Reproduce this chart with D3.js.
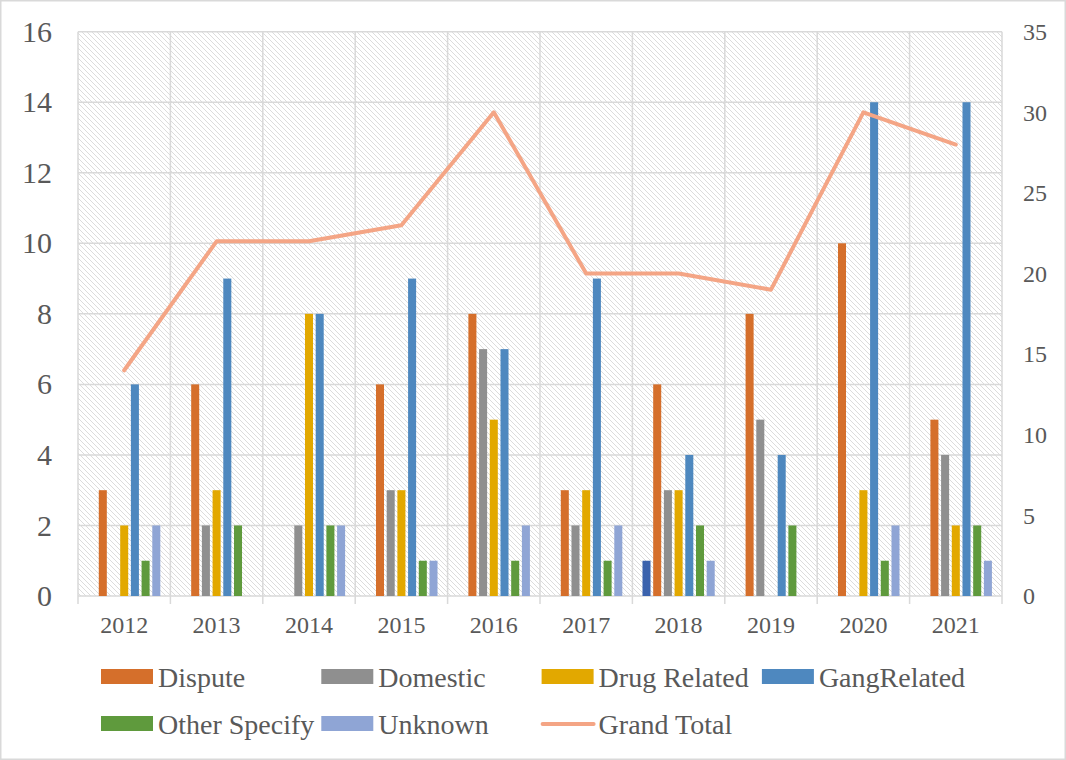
<!DOCTYPE html>
<html>
<head>
<meta charset="utf-8">
<script src="https://cdn.jsdelivr.net/npm/d3@7"></script>
<style>
  html, body { margin: 0; padding: 0; background: #fff; }
  svg { display: block; }
  svg text { font-family: "Liberation Serif", "DejaVu Serif", serif !important; }
</style>
</head>
<body>
<svg id="chart" width="1066" height="760"></svg>
<script>
// Homicide motive counts by year
const years = ["2012", "2013", "2014", "2015", "2016", "2017", "2018", "2019", "2020", "2021"];
const seriesNames = ["(blank)", "Dispute", "Domestic", "Drug Related", "GangRelated", "Other Specify", "Unknown"];
const blank       = [0, 0, 0, 0, 0, 0, 1, 0, 0, 0];
const dispute     = [3, 6, 0, 6, 8, 3, 6, 8, 10, 5];
const domestic    = [0, 2, 2, 3, 7, 2, 3, 5, 0, 4];
const drugRelated = [2, 3, 8, 3, 5, 3, 3, 0, 3, 2];
const gangRelated = [6, 9, 8, 9, 7, 9, 4, 4, 14, 14];
const otherSpecify= [1, 2, 2, 1, 1, 1, 2, 2, 1, 2];
const unknown     = [2, 0, 2, 1, 2, 2, 1, 0, 2, 1];
const grandTotal  = [14, 22, 22, 23, 30, 20, 20, 19, 30, 28];
const leftTicks  = [0, 2, 4, 6, 8, 10, 12, 14, 16];
const rightTicks = [0, 5, 10, 15, 20, 25, 30, 35];

const seriesValues = [blank, dispute, domestic, drugRelated, gangRelated, otherSpecify, unknown];
const colors = ["#3A62AD", "#D56F2B", "#8F8F8F", "#E2A800", "#4E88BF", "#5F9A3D", "#8FA5D5"];
const lineColor = "#F4A585";

const svg = d3.select("#chart");
const W = 1066, H = 760;
const plot = { left: 78, right: 1002, top: 31.7, bottom: 596 };

// outer frame
svg.append("rect").attr("x", 0.75).attr("y", 0.75).attr("width", W - 1.5).attr("height", H - 1.5)
  .attr("fill", "#fff").attr("stroke", "#d9d9d9").attr("stroke-width", 1.5);

// hatch fill for plot area
const defs = svg.append("defs");
const pat = defs.append("pattern").attr("id", "hatch")
  .attr("patternUnits", "userSpaceOnUse").attr("width", 5).attr("height", 5);
pat.append("rect").attr("width", 5).attr("height", 5).attr("fill", "#fff");
pat.append("path").attr("d", "M-1,-1 L6,6 M4,-1 L6,1 M-1,4 L1,6")
  .attr("stroke", "#dcdcdc").attr("stroke-width", 1);

svg.append("rect").attr("x", plot.left).attr("y", plot.top)
  .attr("width", plot.right - plot.left).attr("height", plot.bottom - plot.top)
  .attr("fill", "url(#hatch)");

const x0 = d3.scaleBand().domain(years).range([plot.left, plot.right]).paddingInner(0).paddingOuter(0);
const groupW = 74.9;
const x1 = d3.scaleBand().domain(seriesNames).range([-groupW / 2, groupW / 2])
  .paddingInner(0.25).paddingOuter(0.125);
const y = d3.scaleLinear().domain([0, 16]).range([plot.bottom, plot.top]);
const y2 = d3.scaleLinear().domain([0, 35]).range([plot.bottom, plot.top]);

const grid = "#d9d9d9";

// horizontal gridlines
svg.append("g").selectAll("line").data(leftTicks).join("line")
  .attr("x1", plot.left).attr("x2", plot.right)
  .attr("y1", d => y(d)).attr("y2", d => y(d))
  .attr("stroke", grid).attr("stroke-width", 1.5);

// vertical gridlines at category boundaries, extending as tick marks below the axis
const bounds = years.map(c => x0(c)).concat([plot.right]);
svg.append("g").selectAll("line").data(bounds).join("line")
  .attr("x1", d => d).attr("x2", d => d)
  .attr("y1", plot.top).attr("y2", plot.bottom + 8)
  .attr("stroke", grid).attr("stroke-width", 1.5);

// bars
const barG = svg.append("g");
seriesNames.forEach((name, si) => {
  barG.append("g").selectAll("rect").data(years.map((yr, i) => ({ yr, v: seriesValues[si][i] })))
    .join("rect")
    .filter(d => d.v > 0)
    .attr("x", d => x0(d.yr) + x0.bandwidth() / 2 + x1(name))
    .attr("width", x1.bandwidth())
    .attr("y", d => y(d.v))
    .attr("height", d => y(0) - y(d.v))
    .attr("fill", colors[si]);
});

// Grand Total line on the secondary axis
const line = d3.line()
  .x((d, i) => x0(years[i]) + x0.bandwidth() / 2)
  .y(d => y2(d));
svg.append("path").datum(grandTotal).attr("d", line)
  .attr("fill", "none").attr("stroke", lineColor).attr("stroke-width", 4)
  .attr("stroke-linejoin", "round").attr("stroke-linecap", "round");

// axes
const textColor = "#595959";
const leftAxis = d3.axisLeft(y).tickValues(leftTicks).tickSize(0).tickPadding(26);
svg.append("g").attr("transform", `translate(${plot.left},0)`).call(leftAxis)
  .attr("font-family", null)
  .call(g => g.select(".domain").remove())
  .selectAll("text").attr("fill", textColor).style("font-size", "30px");

const rightAxis = d3.axisRight(y2).tickValues(rightTicks).tickSize(0).tickPadding(21);
svg.append("g").attr("transform", `translate(${plot.right},0)`).call(rightAxis)
  .attr("font-family", null)
  .call(g => g.select(".domain").remove())
  .selectAll("text").attr("fill", textColor).style("font-size", "24px");

const bottomAxis = d3.axisBottom(x0).tickSize(0).tickPadding(20);
svg.append("g").attr("transform", `translate(0,${plot.bottom})`).call(bottomAxis)
  .attr("font-family", null)
  .call(g => g.select(".domain").remove())
  .selectAll("text").attr("fill", textColor).style("font-size", "24px");

// legend
const legendItems = [
  { name: "Dispute", color: colors[1], type: "bar", col: 0, row: 0 },
  { name: "Domestic", color: colors[2], type: "bar", col: 1, row: 0 },
  { name: "Drug Related", color: colors[3], type: "bar", col: 2, row: 0 },
  { name: "GangRelated", color: colors[4], type: "bar", col: 3, row: 0 },
  { name: "Other Specify", color: colors[5], type: "bar", col: 0, row: 1 },
  { name: "Unknown", color: colors[6], type: "bar", col: 1, row: 1 },
  { name: "Grand Total", color: lineColor, type: "line", col: 2, row: 1 }
];
const legend = svg.append("g");
const lg = legend.selectAll("g").data(legendItems).join("g")
  .attr("transform", d => `translate(${101 + d.col * 220.3},${677 + d.row * 47})`);
lg.filter(d => d.type === "bar").append("rect")
  .attr("x", 0).attr("y", -8).attr("width", 52).attr("height", 15).attr("fill", d => d.color);
lg.filter(d => d.type === "line").append("line")
  .attr("x1", 1).attr("x2", 52).attr("y1", 0).attr("y2", 0)
  .attr("stroke", d => d.color).attr("stroke-width", 4).attr("stroke-linecap", "round");
lg.append("text").attr("x", 57).attr("y", 0).attr("dy", "0.35em")
  .style("font-size", "28px").attr("fill", textColor).text(d => d.name);
</script>
</body>
</html>
